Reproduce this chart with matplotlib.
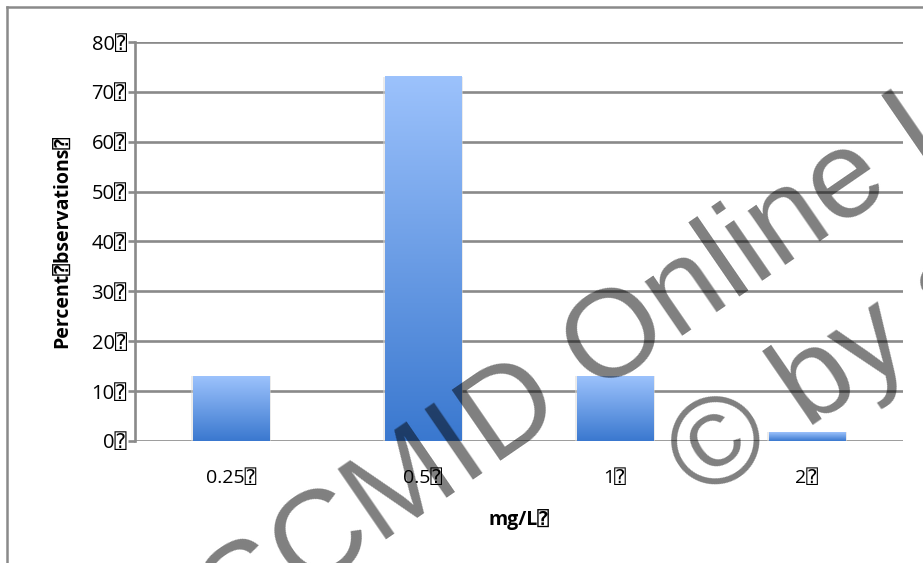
import numpy as np
import matplotlib
matplotlib.use("Agg")
import matplotlib.pyplot as plt
from matplotlib.colors import LinearSegmentedColormap
from matplotlib.lines import Line2D

plt.rcParams['font.family'] = ['Open Sans', 'DejaVu Sans', 'DejaVu Sans Mono']

# data
BOX = "\u2370"
categories = ["0.25", "0.5", "1", "2"]
percent = [13, 73, 13, 1.8]
y_ticks = [0, 10, 20, 30, 40, 50, 60, 70, 80]
x_label = "mg/L" + BOX
y_label = "Percent" + BOX + "bservations" + BOX
watermark_1 = "ESCMID Online Lecture Library"
watermark_2 = "\u00a9 by author"

GRID = "#8a8a8a"
bar_cmap = LinearSegmentedColormap.from_list("bar", ["#3a78cf", "#9cc2fc"])

W, H = 923, 563
fig = plt.figure(figsize=(W / 100, H / 100), dpi=100)
ax = fig.add_axes([135 / W, 1 - 441 / H, (903 - 135) / W, (441 - 42) / H])

x = np.arange(len(categories))
bars = ax.bar(x, percent, width=0.4, color="none", zorder=3)

# vertical gradient per bar, light at top, dark at bottom
grad = np.linspace(0, 1, 256).reshape(-1, 1)
for b in bars:
    x0, w, h = b.get_x(), b.get_width(), b.get_height()
    ax.bar(x0 + w / 2, h, width=w * 1.04, color="#d8d8d8", alpha=0.5,
           zorder=2, linewidth=0)
    ax.imshow(grad, cmap=bar_cmap, origin="lower", aspect="auto",
              extent=(x0, x0 + w, 0, h), zorder=3)

ax.set_xlim(-0.5, len(categories) - 0.5)
ax.set_ylim(0, 80)
ax.set_yticks(y_ticks)
ax.set_yticklabels([f"{v}{BOX}" for v in y_ticks])
ax.set_xticks(x)
ax.set_xticklabels([c + BOX for c in categories])

ax.yaxis.grid(True, color=GRID, linewidth=1.9, zorder=1)
ax.set_axisbelow(True)
for side in ("top", "right", "bottom"):
    ax.spines[side].set_visible(False)
ax.spines["left"].set_color(GRID)
ax.spines["left"].set_linewidth(1.9)
ax.tick_params(axis="y", length=5, width=1.9, color=GRID, labelsize=14.5, pad=1)
ax.tick_params(axis="x", length=0, labelsize=14, pad=20)

ax.set_xlabel(x_label, fontsize=14, fontweight="bold", labelpad=16)
ax.set_ylabel(y_label, fontsize=14, fontweight="bold", labelpad=13)

# outer frame of the slide
fig.add_artist(Line2D([7 / W, 1], [1 - 7 / H, 1 - 7 / H], color=GRID, lw=1.8,
                      transform=fig.transFigure))
fig.add_artist(Line2D([7 / W, 7 / W], [0, 1 - 7 / H], color=GRID, lw=1.8,
                      transform=fig.transFigure))

# watermark, placed by measuring its prefixes
ang = np.deg2rad(34.5)
d = np.array([np.cos(ang), np.sin(ang)])
renderer = fig.canvas.get_renderer()
wm = dict(fontsize=90, color="black", alpha=0.5, rotation=34.5,
          rotation_mode="anchor", ha="left", va="baseline", zorder=10,
          family=["Liberation Sans", "DejaVu Sans"])


def prefix_width(s):
    t = fig.text(0, 0, s, **{**wm, "rotation": 0})
    wdt = t.get_window_extent(renderer).width
    t.remove()
    return wdt


# "n" of Online sits at (676, 340); "b" of by at (807, 430)  (image px)
p1 = np.array([676, H - 340]) - prefix_width("ESCMID O") * d
p2 = np.array([807, H - 430]) - prefix_width("\u00a9 ") * d
fig.text(p1[0] / W, p1[1] / H, watermark_1, **wm)
fig.text(p2[0] / W, p2[1] / H, watermark_2, **wm)

fig.savefig("out.png", dpi=100)
